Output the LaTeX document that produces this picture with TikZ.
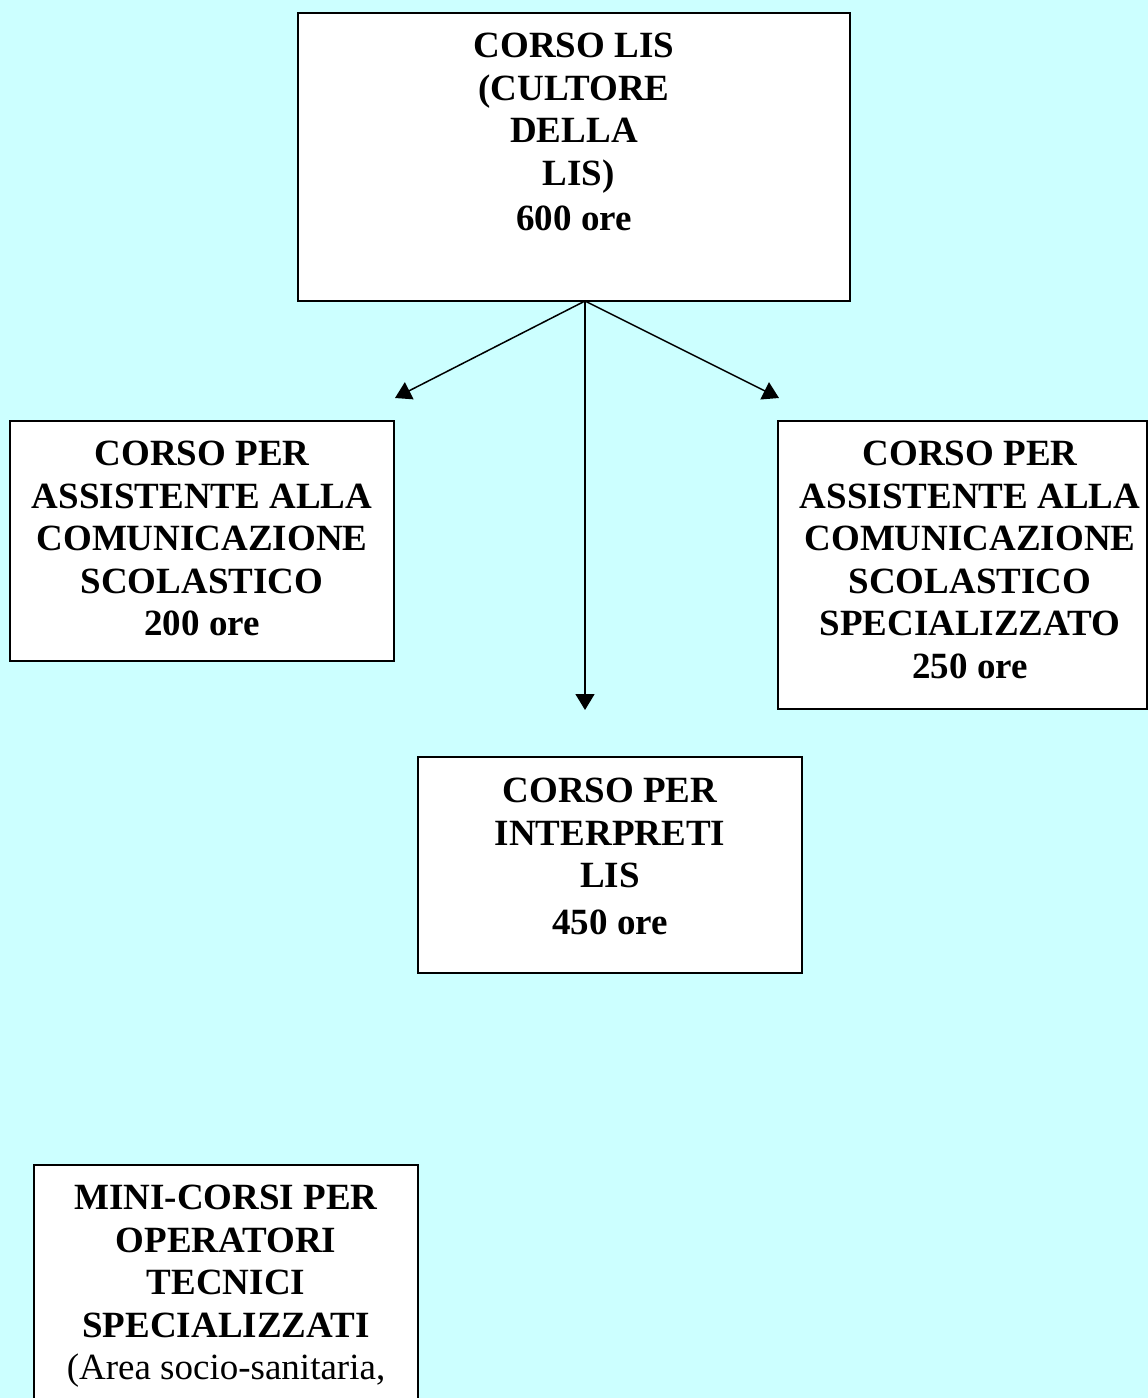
\documentclass[tikz,border=0pt]{standalone}
\usepackage{fontspec}
\setmainfont{Liberation Serif}
\usetikzlibrary{arrows.meta}
\definecolor{bgcyan}{RGB}{204,255,255}
\tikzset{
  box/.style={draw=black, fill=white, line width=1.4pt},
  txt/.style={align=center, inner sep=0pt, anchor=north, font=\fontsize{37}{42.5}\selectfont\bfseries},
  conn/.style={line width=1.5pt, -{Triangle[width=19pt,length=16pt]}}
}
\begin{document}
\begin{tikzpicture}[x=1pt,y=-1pt]
\useasboundingbox (0,0) rectangle (1148,1398);
\clip (0,0) rectangle (1148,1398);
\fill[bgcyan] (0,0) rectangle (1148,1398);
% boxes
\draw[box] (298,13) rectangle (850,301);
\node[inner sep=0pt, minimum width=552pt, minimum height=288pt] (topbox) at (574,157) {};
\draw[box] (10,421) rectangle (394,661);
\node[inner sep=0pt, minimum width=384pt, minimum height=240pt] (leftbox) at (202,541) {};
\draw[box] (778,421) rectangle (1147,709);
\node[inner sep=0pt, minimum width=369pt, minimum height=288pt] (rightbox) at (962.5,565) {};
\draw[box] (418,757) rectangle (802,973);
\node[inner sep=0pt, minimum width=384pt, minimum height=216pt] (midbox) at (610,865) {};
\draw[box] (34,1165) rectangle (418,1440);
\node[inner sep=0pt, minimum width=384pt, minimum height=275pt] (botbox) at (226,1302) {};
% texts
\node[txt] (toptext) at (574,33) {CORSO LIS\\(CULTORE\\DELLA\\\ LIS)\\[3pt]600 ore};
\node[txt] (lefttext) at (202,441) {CORSO PER\\ASSISTENTE ALLA\\COMUNICAZIONE\\SCOLASTICO\\200 ore};
\node[txt] (righttext) at (970,441) {CORSO PER\\ASSISTENTE ALLA\\COMUNICAZIONE\\SCOLASTICO\\SPECIALIZZATO\\250 ore};
\node[txt] (midtext) at (610,778) {CORSO PER\\INTERPRETI\\LIS\\[4pt]450 ore};
\node[txt] (bottext) at (226,1185) {MINI-CORSI PER\\OPERATORI\\TECNICI\\SPECIALIZZATI\\\mdseries (Area socio-sanitaria,};
% connectors
\coordinate (fork) at (585,301);
\coordinate (lend) at (395,398);
\coordinate (rend) at (779,398);
\coordinate (mend) at (585,710);
\draw[conn] (fork) -- (lend);
\draw[conn] (fork) -- (rend);
\draw[conn] (fork) -- (mend);
\end{tikzpicture}
\end{document}
